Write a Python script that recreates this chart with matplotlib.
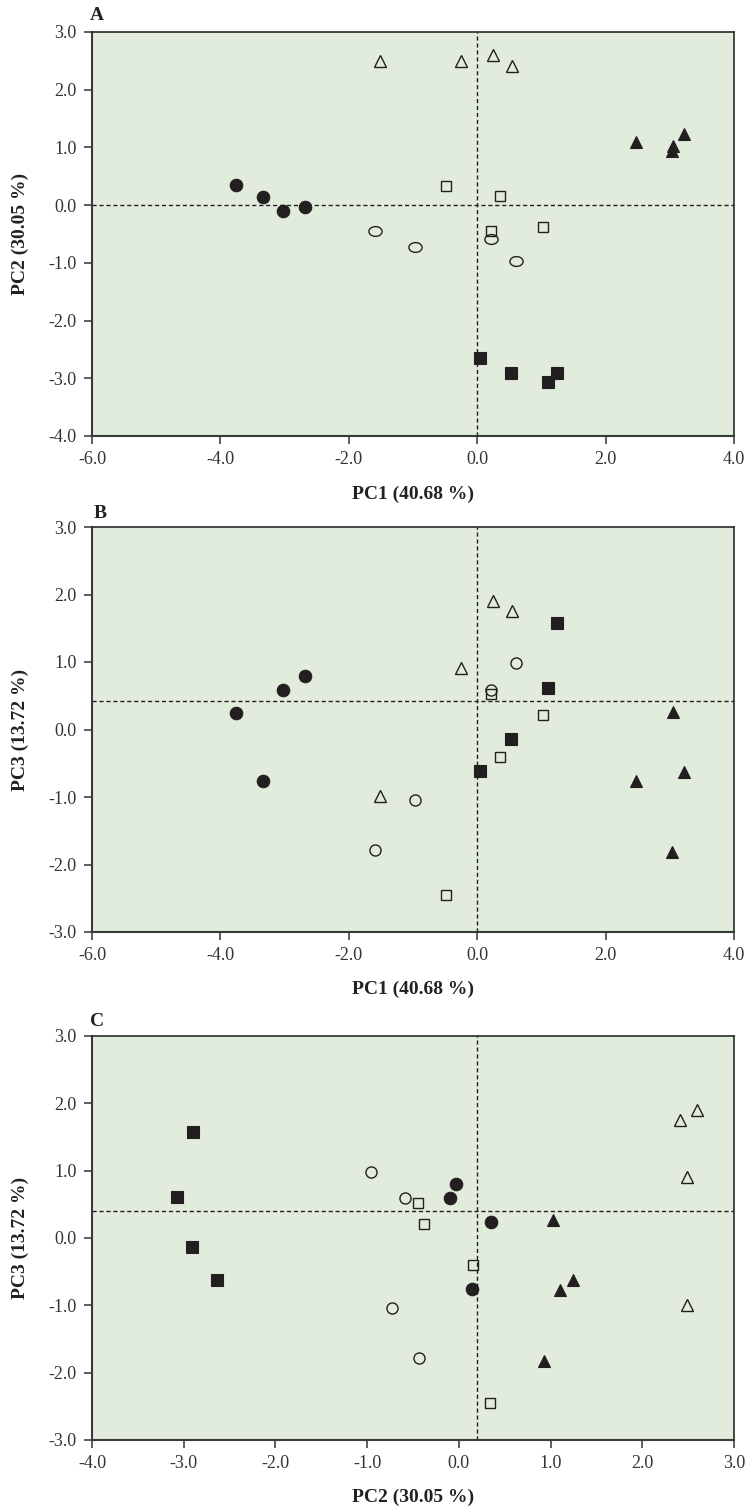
import matplotlib
matplotlib.use("Agg")
import matplotlib.pyplot as plt
import numpy as np
from matplotlib.path import Path
from matplotlib.ticker import FormatStrFormatter, MultipleLocator

plt.rcParams['font.family'] = ['Liberation Serif', 'DejaVu Serif']
plt.rcParams['axes.unicode_minus'] = False

# ---- data: principal component scores per group (4 samples each) ----
filled_circle_pc1 = [-3.75, -3.34, -3.03, -2.69]
filled_circle_pc2 = [0.35, 0.14, -0.10, -0.03]
filled_circle_pc3 = [0.24, -0.76, 0.59, 0.80]

open_circle_pc1 = [-1.59, -0.97, 0.21, 0.60]
open_circle_pc2 = [-0.44, -0.73, -0.59, -0.96]
open_circle_pc3 = [-1.78, -1.04, 0.59, 0.98]

open_triangle_pc1 = [-1.51, -0.25, 0.25, 0.54]
open_triangle_pc2 = [2.49, 2.49, 2.60, 2.41]
open_triangle_pc3 = [-0.99, 0.91, 1.90, 1.75]

filled_triangle_pc1 = [2.48, 3.05, 3.04, 3.22]
filled_triangle_pc2 = [1.10, 1.03, 0.93, 1.24]
filled_triangle_pc3 = [-0.77, 0.26, -1.82, -0.63]

open_square_pc1 = [-0.48, 0.35, 0.22, 1.02]
open_square_pc2 = [0.34, 0.15, -0.45, -0.38]
open_square_pc3 = [-2.45, -0.40, 0.52, 0.21]

filled_square_pc1 = [0.045, 0.52, 1.10, 1.25]
filled_square_pc2 = [-2.64, -2.91, -3.07, -2.90]
filled_square_pc3 = [-0.62, -0.14, 0.61, 1.58]

pc_labels = ['PC1 (40.68 %)', 'PC2 (30.05 %)', 'PC3 (13.72 %)']
panel_letters = ['A', 'B', 'C']

# reference (dashed) lines per panel: (vertical x, horizontal y)
ref_lines = [(0.0, 0.0), (0.0, 0.42), (0.2, 0.40)]

# ---- styling ----
INK = '#231f20'
BG = '#e2ecdc'
FIG_W, FIG_H = 750, 1508

# ellipse marker for panel A open circles
t = np.linspace(0, 2 * np.pi, 60)
ellipse_marker = Path(np.column_stack([1.35 * np.cos(t), np.sin(t)]), closed=True)

groups = [
    (filled_circle_pc1, filled_circle_pc2, filled_circle_pc3, 'o', True, 9.0),
    (open_circle_pc1, open_circle_pc2, open_circle_pc3, 'o', False, 8.0),
    (open_triangle_pc1, open_triangle_pc2, open_triangle_pc3, '^', False, 8.5),
    (filled_triangle_pc1, filled_triangle_pc2, filled_triangle_pc3, '^', True, 8.5),
    (open_square_pc1, open_square_pc2, open_square_pc3, 's', False, 7.5),
    (filled_square_pc1, filled_square_pc2, filled_square_pc3, 's', True, 8.5),
]

fig = plt.figure(figsize=(FIG_W / 100, FIG_H / 100), dpi=100)


def px_axes(left, top, right, bottom):
    return [left / FIG_W, 1 - bottom / FIG_H, (right - left) / FIG_W, (bottom - top) / FIG_H]


panels = [
    dict(rect=px_axes(92, 32, 734, 436), xi=0, yi=1, xlim=(-6, 4), ylim=(-4, 3), xstep=2,
         letter_xy=(97, 16), xlabel_y=494),
    dict(rect=px_axes(92, 527, 734, 932), xi=0, yi=2, xlim=(-6, 4), ylim=(-3, 3), xstep=2,
         letter_xy=(100, 514), xlabel_y=989),
    dict(rect=px_axes(92, 1036, 734, 1440), xi=1, yi=2, xlim=(-4, 3), ylim=(-3, 3), xstep=1,
         letter_xy=(97, 1021), xlabel_y=1497),
]

for k, p in enumerate(panels):
    ax = fig.add_axes(p['rect'])
    ax.set_facecolor(BG)
    ax.set_xlim(*p['xlim'])
    ax.set_ylim(*p['ylim'])
    vx, hy = ref_lines[k]
    ax.axvline(vx, color=INK, lw=1.0, ls=(0, (3, 2)), zorder=1)
    ax.axhline(hy, color=INK, lw=1.0, ls=(0, (3, 2)), zorder=1)
    for g in groups:
        xs = g[p['xi']]
        ys = g[p['yi']]
        marker, filled, ms = g[3], g[4], g[5]
        if k == 0 and marker == 'o' and not filled:
            marker = ellipse_marker
            ms = 9.5
        if filled:
            ax.plot(xs, ys, ls='none', marker=marker, ms=ms, mfc=INK, mec=INK, mew=0.8, zorder=3)
        else:
            ax.plot(xs, ys, ls='none', marker=marker, ms=ms, mfc='none', mec=INK, mew=1.0, zorder=3)
    ax.xaxis.set_major_locator(MultipleLocator(p['xstep']))
    ax.yaxis.set_major_locator(MultipleLocator(1))
    ax.xaxis.set_major_formatter(FormatStrFormatter('%.1f'))
    ax.yaxis.set_major_formatter(FormatStrFormatter('%.1f'))
    ax.tick_params(axis='both', direction='out', length=6, width=1.2, color='#444444',
                   labelsize=13, labelcolor='#333333', pad=5)
    for side in ['left', 'bottom']:
        ax.spines[side].set_color('#3a3a3a')
        ax.spines[side].set_linewidth(1.5)
    for side in ['top', 'right']:
        ax.spines[side].set_color('#2a2a2a')
        ax.spines[side].set_linewidth(1.2)

    # labels
    fig.text(413 / FIG_W, 1 - p['xlabel_y'] / FIG_H, pc_labels[p['xi']], ha='center', va='center',
             fontsize=14, fontweight='bold', color='#222222')
    top_px = (1 - p['rect'][1] - p['rect'][3]) * FIG_H
    bot_px = (1 - p['rect'][1]) * FIG_H
    fig.text(20 / FIG_W, 1 - (top_px + bot_px) / 2 / FIG_H, pc_labels[p['yi']], ha='center',
             va='center', rotation=90, fontsize=14, fontweight='bold', color='#222222')
    lx, ly = p['letter_xy']
    fig.text(lx / FIG_W, 1 - ly / FIG_H, panel_letters[k], ha='center', va='center',
             fontsize=14, fontweight='bold', color='#222222')

fig.savefig('out.png', dpi=100, facecolor='white')
